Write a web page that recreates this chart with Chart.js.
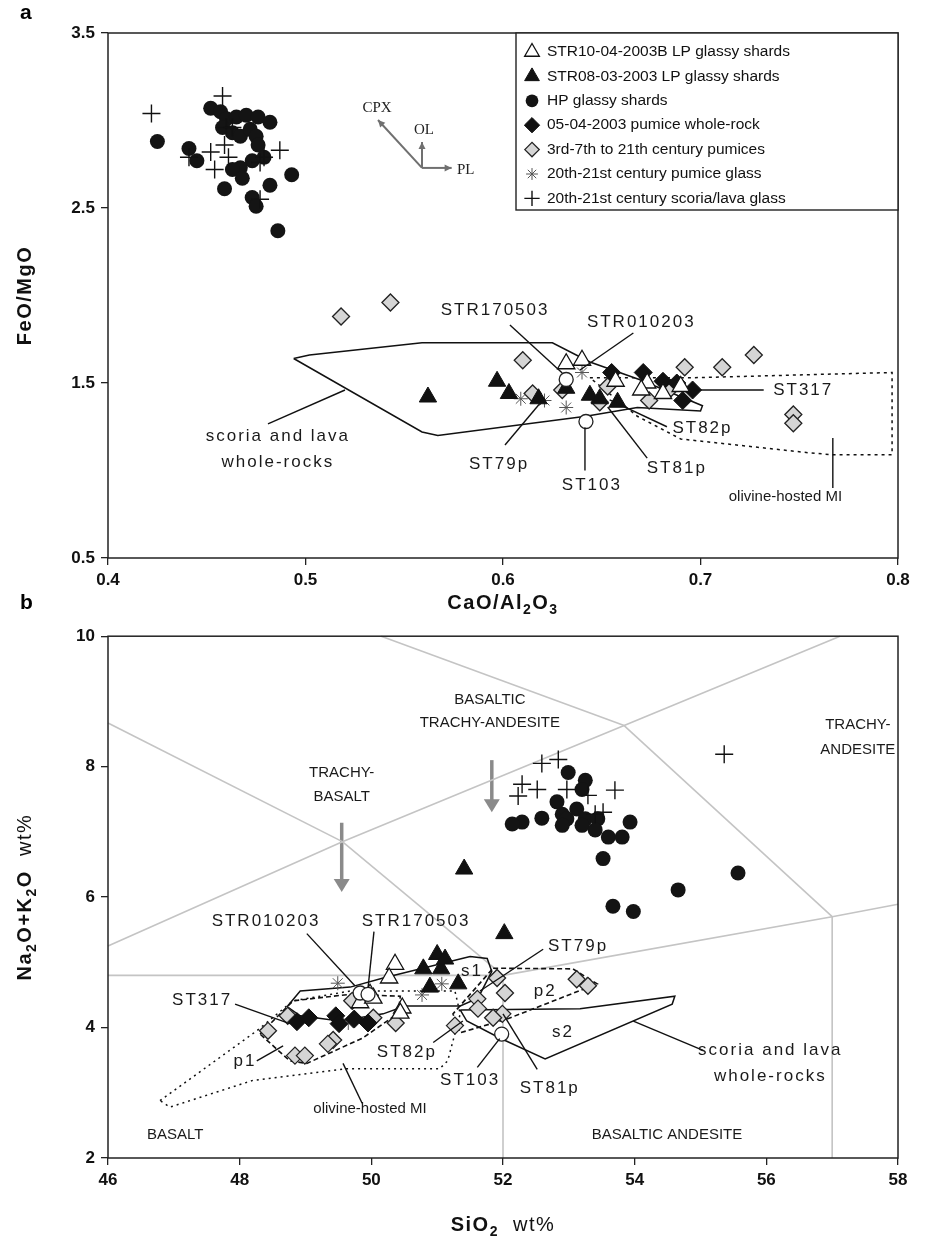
<!DOCTYPE html>
<html>
<head>
<meta charset="utf-8">
<script src="https://cdn.jsdelivr.net/npm/chart.js@4.4.1/dist/chart.umd.min.js"></script>
<style>
  body { margin: 0; background: #fff; }
  #page { position: relative; width: 928px; height: 1245px; overflow: hidden; }
  canvas { position: absolute; left: 0; }
  #ca { top: 0; }
  #cb { top: 620px; }
  .tag { position: absolute; font: bold 21px "Liberation Sans", Arial, sans-serif; }
</style>
</head>
<body>
<div id="page">
  <canvas id="ca" width="928" height="620"></canvas>
  <canvas id="cb" width="928" height="625"></canvas>
  <div class="tag" style="left:20px;top:0px">a</div>
  <div class="tag" style="left:20px;top:590px">b</div>
</div>
<script>
const SANS = '"Liberation Sans", Arial, sans-serif';
const NARROW = '"Liberation Sans Narrow", "Liberation Sans", Arial, sans-serif';

// ---------- panel a : FeO/MgO vs CaO/Al2O3 ----------
const A_X_TICKS = [0.4, 0.5, 0.6, 0.7, 0.8];
const A_Y_TICKS = [0.5, 1.5, 2.5, 3.5];

const aOpenTri = [[0.632,1.61],[0.640,1.63],[0.657,1.51],[0.673,1.50],[0.670,1.46],[0.681,1.44],[0.690,1.48]];
const aBlackTri = [[0.562,1.42],[0.597,1.51],[0.603,1.44],[0.618,1.41],[0.632,1.47],[0.644,1.43],[0.649,1.41],[0.658,1.39]];
const aHP = [[0.425,2.88],[0.441,2.84],[0.445,2.77],[0.452,3.07],[0.457,3.05],[0.460,3.01],[0.465,3.02],[0.470,3.03],
  [0.476,3.02],[0.482,2.99],[0.458,2.96],[0.463,2.93],[0.467,2.91],[0.472,2.95],[0.475,2.91],[0.476,2.86],[0.473,2.77],
  [0.467,2.73],[0.463,2.72],[0.468,2.67],[0.459,2.61],[0.482,2.63],[0.493,2.69],[0.473,2.56],[0.475,2.51],[0.486,2.37],[0.479,2.79]];
const aWR = [[0.655,1.56],[0.671,1.56],[0.681,1.51],[0.688,1.50],[0.696,1.46],[0.691,1.40]];
const aPumice = [[0.518,1.88],[0.543,1.96],[0.610,1.63],[0.615,1.44],[0.630,1.46],[0.653,1.48],[0.649,1.39],[0.674,1.40],
  [0.685,1.47],[0.692,1.59],[0.711,1.59],[0.727,1.66],[0.747,1.32],[0.747,1.27]];
const aPumGlass = [[0.609,1.41],[0.621,1.40],[0.632,1.36],[0.640,1.56]];
const aScoria = [[0.422,3.04],[0.458,3.14],[0.452,2.82],[0.441,2.79],[0.461,2.79],[0.479,2.79],[0.487,2.83],[0.454,2.72],
  [0.477,2.55],[0.460,2.96],[0.463,2.96],[0.459,2.86],[0.477,2.76]];
const aNamed = [[0.632,1.52],[0.642,1.28]];

const aScoriaField = [[0.494,1.64],[0.502,1.66],[0.559,1.73],[0.625,1.73],[0.644,1.62],[0.669,1.52],[0.701,1.37],
  [0.700,1.34],[0.668,1.36],[0.642,1.31],[0.567,1.20],[0.559,1.22]];
const aMIField = [[0.644,1.53],[0.696,1.53],[0.797,1.56],[0.797,1.09],[0.767,1.09],[0.756,1.10],[0.690,1.18],[0.668,1.31]];

const aLabels = [
  ['STR170503', 0.596, 1.917], ['STR010203', 0.670, 1.849], ['ST317', 0.752, 1.46], ['ST82p', 0.701, 1.243],
  ['ST81p', 0.688, 1.014], ['ST79p', 0.598, 1.037], ['ST103', 0.645, 0.917],
  ['scoria and lava', 0.486, 1.193], ['whole-rocks', 0.486, 1.049]
];
const aSmallLabels = [['olivine-hosted MI', 0.743, 0.849]];
const aLeaders = [[0.6035,1.831,0.630,1.557],[0.666,1.786,0.639,1.574],[0.697,1.46,0.732,1.46],[0.654,1.403,0.683,1.25],
  [0.653,1.363,0.673,1.071],[0.601,1.146,0.621,1.414],[0.6415,1.246,0.6415,1.0],[0.481,1.266,0.52,1.46],[0.767,1.186,0.767,0.90]];
// mineral vectors: origin, then [name, tip x, tip y, label x, label y]
const aVecOrigin = [0.559, 2.729];
const aVecTips = [['CPX', 0.5367, 3.003, 0.5362, 3.071], ['OL', 0.559, 2.877, 0.560, 2.946], ['PL', 0.574, 2.729, 0.5767, 2.717]];

// ---------- panel b : TAS ----------
const B_X_TICKS = [46, 48, 50, 52, 54, 56, 58];
const B_Y_TICKS = [2, 4, 6, 8, 10];

const bOpenTri = [[50.36,4.97],[50.27,4.76],[49.98,4.51],[49.83,4.38],[50.03,4.45],[50.47,4.30],[50.44,4.22]];
const bBlackTri = [[51.00,5.12],[50.79,4.90],[51.06,4.90],[50.89,4.62],[51.32,4.67],[51.41,6.43],[52.02,5.44],[51.12,5.05]];
const bHP = [[52.99,7.91],[53.25,7.79],[53.20,7.65],[52.82,7.46],[52.90,7.27],[52.97,7.20],[53.12,7.35],[53.25,7.20],
  [53.44,7.20],[53.20,7.10],[52.90,7.10],[53.40,7.03],[53.60,6.92],[53.81,6.92],[53.93,7.15],[52.59,7.21],[52.29,7.15],
  [52.14,7.12],[53.52,6.59],[55.57,6.37],[54.66,6.11],[53.67,5.86],[53.98,5.78]];
const bWR = [[48.87,4.09],[49.05,4.15],[49.46,4.18],[49.51,4.06],[49.74,4.13],[49.95,4.07]];
const bPumice = [[48.43,3.95],[48.73,4.18],[49.71,4.41],[50.03,4.15],[50.37,4.07],[49.42,3.81],[49.34,3.75],[48.84,3.57],
  [48.99,3.57],[51.27,4.03],[51.91,4.76],[52.03,4.53],[51.61,4.44],[51.62,4.29],[51.99,4.21],[51.85,4.15],[53.12,4.74],[53.29,4.64]];
const bPumGlass = [[49.49,4.68],[49.65,4.07],[50.77,4.50],[51.07,4.67]];
const bScoria = [[52.59,8.05],[52.84,8.11],[52.29,7.73],[52.52,7.65],[52.23,7.55],[52.97,7.65],[53.29,7.56],[53.70,7.64],
  [53.52,7.30],[53.40,7.27],[55.36,8.19]];
const bNamed = [[49.83,4.53],[49.95,4.51],[51.98,3.90]];

const bS1Field = [[48.72,4.32],[48.92,4.56],[49.68,4.62],[50.18,4.76],[51.50,5.09],[51.76,5.06],[51.83,4.86],[51.62,4.45],
  [51.35,4.33],[50.51,4.33],[50.18,4.21],[49.52,4.10],[48.92,4.18]];
const bS2Field = [[51.35,4.27],[53.17,4.29],[54.61,4.48],[54.57,4.36],[52.64,3.52],[51.95,3.84],[51.45,4.10]];
const bP1Field = [[48.31,3.90],[48.81,4.41],[49.68,4.51],[50.44,4.48],[50.41,4.22],[49.87,3.84],[49.02,3.45],[48.76,3.49]];
const bP2Field = [[51.85,4.91],[53.06,4.90],[53.43,4.67],[52.06,4.13],[51.35,3.92],[51.24,4.21]];
const bMIField = [[46.79,2.88],[48.26,3.95],[48.81,4.41],[49.68,4.56],[51.27,4.56],[51.35,4.21],[51.16,3.49],[51.04,3.37],
  [49.63,3.37],[48.20,3.19],[46.94,2.78]];

// classification field boundaries, as drawn in the figure
const bTasLines = [
  [[46,4.80],[52.0,4.80],[52.0,2]],
  [[52.0,4.80],[57.0,5.70],[58,5.89]],
  [[57.0,5.70],[57,2]],
  [[46,5.25],[49.56,6.85],[53.84,8.63],[57.12,10]],
  [[49.56,6.85],[52.0,4.80]],
  [[53.84,8.63],[57.0,5.70]],
  [[46,8.67],[49.56,6.85]],
  [[53.84,8.63],[50.15,10]]
];

const bLabels = [
  ['STR010203', 48.40, 5.63], ['STR170503', 50.68, 5.63], ['ST317', 47.43, 4.41], ['p1', 48.08, 3.49],
  ['ST82p', 50.54, 3.62], ['ST103', 51.50, 3.19], ['ST81p', 52.71, 3.07], ['ST79p', 53.14, 5.25],
  ['s1', 51.53, 4.86], ['p2', 52.64, 4.56], ['s2', 52.91, 3.92],
  ['scoria and lava', 56.06, 3.65], ['whole-rocks', 56.06, 3.26]
];
const bSmallLabels = [
  ['olivine-hosted MI', 49.98, 2.76], ['BASALT', 47.02, 2.35], ['BASALTIC ANDESITE', 54.49, 2.35],
  ['TRACHY-', 49.55, 7.91], ['BASALT', 49.55, 7.53], ['BASALTIC', 51.80, 9.02], ['TRACHY-ANDESITE', 51.80, 8.67],
  ['TRACHY-', 57.39, 8.64], ['ANDESITE', 57.39, 8.25]
];
const bLeaders = [[49.02,5.44,49.75,4.64],[50.04,5.47,49.95,4.61],[47.93,4.36,48.76,4.06],[48.26,3.49,48.66,3.72],
  [50.94,3.77,51.39,4.10],[51.61,3.39,51.95,3.83],[52.52,3.36,52.00,4.21],[52.61,5.20,51.65,4.56],
  [55.04,3.65,53.98,4.10],[49.86,2.84,49.57,3.45]];
const bArrows = [[49.55,7.14,49.55,6.08],[51.83,8.10,51.83,7.30]];

// ---------- helpers ----------
const xy = arr => arr.map(([x, y]) => ({ x, y }));
const closed = arr => xy([...arr, arr[0]]);

const STYLE = {
  openTri:  { pointStyle: 'triangle', pointRadius: 10, backgroundColor: '#fff', borderColor: '#111', pointBorderWidth: 1.3 },
  blackTri: { pointStyle: 'triangle', pointRadius: 10, backgroundColor: '#111', borderColor: '#111', pointBorderWidth: 1 },
  hp:       { pointStyle: 'circle', pointRadius: 7.5, backgroundColor: '#141414', borderColor: '#141414', pointBorderWidth: 0 },
  wr:       { pointStyle: 'rectRot', pointRadius: 9, backgroundColor: '#111', borderColor: '#111', pointBorderWidth: 1 },
  pumice:   { pointStyle: 'rectRot', pointRadius: 8.5, backgroundColor: '#d5d5d5', borderColor: '#222', pointBorderWidth: 1.3 },
  pumGlass: { pointStyle: 'star', pointRadius: 7, backgroundColor: '#555', borderColor: '#555', pointBorderWidth: 1 },
  scoria:   { pointStyle: 'cross', pointRadius: 9, backgroundColor: '#111', borderColor: '#111', pointBorderWidth: 1.4 },
  named:    { pointStyle: 'circle', pointRadius: 7, backgroundColor: '#fff', borderColor: '#222', pointBorderWidth: 1.3 }
};
const LEGEND = [
  ['openTri', 'STR10-04-2003B LP glassy shards'],
  ['blackTri', 'STR08-03-2003 LP glassy shards'],
  ['hp', 'HP glassy shards'],
  ['wr', '05-04-2003 pumice whole-rock'],
  ['pumice', '3rd-7th to 21th century pumices'],
  ['pumGlass', '20th-21st century pumice glass'],
  ['scoria', '20th-21st century scoria/lava glass']
];

function pts(key, data) {
  const s = STYLE[key];
  return {
    type: 'scatter', data: xy(data), pointStyle: s.pointStyle, pointRadius: s.pointRadius,
    pointBackgroundColor: s.backgroundColor, pointBorderColor: s.borderColor, pointBorderWidth: s.pointBorderWidth,
    showLine: false, clip: false
  };
}
function outline(data, dash, color, width) {
  return {
    type: 'line', data: data, borderColor: color || '#111', borderWidth: width || 1.4, borderDash: dash || [],
    pointRadius: 0, fill: false, tension: 0, showLine: true, clip: false
  };
}

function axis(min, max, ticks, fit, horizontal, fmt) {
  return {
    type: 'linear', min, max,
    border: { display: false },
    grid: { drawOnChartArea: false, drawTicks: true, tickLength: 7, color: '#222', lineWidth: 1.3 },
    ticks: { color: '#111', font: { family: SANS, size: 17, weight: 'bold' }, padding: horizontal ? 5 : 6, callback: fmt },
    afterBuildTicks: s => { s.ticks = ticks.map(value => ({ value })); },
    afterFit: s => { if (horizontal) s.height = fit; else s.width = fit; }
  };
}

// rich text: segments [text, 'b' bold | 's' bold subscript | 'n' normal]
function drawRich(ctx, segs, cx, cy, size, rotate) {
  const fontOf = st => (st === 'n' ? '' : 'bold ') + (st === 's' ? Math.round(size * 0.7) : size) + 'px ' + SANS;
  ctx.save();
  ctx.translate(cx, cy);
  if (rotate) ctx.rotate(-Math.PI / 2);
  ctx.letterSpacing = '1.5px';
  let total = 0;
  segs.forEach(([t, st]) => { ctx.font = fontOf(st); total += ctx.measureText(t).width; });
  let x = -total / 2;
  ctx.fillStyle = '#111';
  ctx.textBaseline = 'middle';
  ctx.textAlign = 'left';
  segs.forEach(([t, st]) => {
    ctx.font = fontOf(st);
    ctx.fillText(t, x, st === 's' ? size * 0.35 : 0);
    x += ctx.measureText(t).width;
  });
  ctx.restore();
}

function arrowHead(ctx, x0, y0, x1, y1, len, wid) {
  const a = Math.atan2(y1 - y0, x1 - x0);
  ctx.beginPath();
  ctx.moveTo(x1, y1);
  ctx.lineTo(x1 - len * Math.cos(a) + wid * Math.sin(a), y1 - len * Math.sin(a) - wid * Math.cos(a));
  ctx.lineTo(x1 - len * Math.cos(a) - wid * Math.sin(a), y1 - len * Math.sin(a) + wid * Math.cos(a));
  ctx.closePath();
  ctx.fill();
}

function decoPlugin(cfg) {
  return {
    id: 'deco',
    beforeDatasetsDraw(chart) {
      const { ctx, scales: { x, y } } = chart;
      ctx.save();
      (cfg.arrows || []).forEach(([x0, y0, x1, y1]) => {
        const X0 = x.getPixelForValue(x0), Y0 = y.getPixelForValue(y0);
        const X1 = x.getPixelForValue(x1), Y1 = y.getPixelForValue(y1);
        ctx.strokeStyle = '#8a8a8a'; ctx.fillStyle = '#8a8a8a'; ctx.lineWidth = 3.5;
        ctx.beginPath(); ctx.moveTo(X0, Y0); ctx.lineTo(X1, Y1 - 10); ctx.stroke();
        arrowHead(ctx, X0, Y0, X1, Y1, 13, 8);
      });
      ctx.restore();
    },
    afterDatasetsDraw(chart) {
      const { ctx, chartArea: ca, scales: { x, y } } = chart;
      const px = v => x.getPixelForValue(v), py = v => y.getPixelForValue(v);
      ctx.save();
      ctx.strokeStyle = '#222'; ctx.lineWidth = 1.5;
      ctx.strokeRect(ca.left, ca.top, ca.right - ca.left, ca.bottom - ca.top);

      ctx.strokeStyle = '#111'; ctx.lineWidth = 1.4;
      cfg.leaders.forEach(([x0, y0, x1, y1]) => {
        ctx.beginPath(); ctx.moveTo(px(x0), py(y0)); ctx.lineTo(px(x1), py(y1)); ctx.stroke();
      });

      ctx.fillStyle = '#1a1a1a';
      ctx.textAlign = 'center'; ctx.textBaseline = 'middle';
      ctx.font = '17px ' + SANS; ctx.letterSpacing = '2px';
      cfg.labels.forEach(([t, lx, ly]) => ctx.fillText(t, px(lx), py(ly)));
      ctx.font = '15px ' + NARROW; ctx.letterSpacing = '0px';
      cfg.smallLabels.forEach(([t, lx, ly]) => ctx.fillText(t, px(lx), py(ly)));

      if (cfg.vectors) {
        const [ox, oy] = cfg.vectors.origin;
        ctx.strokeStyle = '#707070'; ctx.fillStyle = '#707070'; ctx.lineWidth = 2;
        cfg.vectors.tips.forEach(([name, tx, ty, lx, ly]) => {
          ctx.beginPath(); ctx.moveTo(px(ox), py(oy)); ctx.lineTo(px(tx), py(ty)); ctx.stroke();
          arrowHead(ctx, px(ox), py(oy), px(tx), py(ty), 7, 3.5);
          ctx.fillStyle = '#222';
          ctx.font = '15px "Liberation Serif", "DejaVu Serif", serif';
          ctx.textAlign = name === 'PL' ? 'left' : 'center';
          ctx.fillText(name, px(lx), py(ly));
          ctx.fillStyle = '#707070';
        });
      }

      if (cfg.legend) {
        const L = ca.right - 382, T = ca.top, W = 382, H = 177;
        ctx.fillStyle = '#fff'; ctx.fillRect(L, T, W, H);
        ctx.strokeStyle = '#222'; ctx.lineWidth = 1.4; ctx.strokeRect(L, T, W, H);
        LEGEND.forEach(([key, text], i) => {
          const s = STYLE[key];
          const cy = T + 19 + i * 24.4;
          ctx.fillStyle = s.backgroundColor; ctx.strokeStyle = s.borderColor;
          ctx.lineWidth = s.pointBorderWidth || 0.01;
          Chart.helpers.drawPoint(ctx, { pointStyle: s.pointStyle, radius: s.pointRadius * 0.85, borderWidth: s.pointBorderWidth, rotation: 0 }, L + 16, cy);
          ctx.fillStyle = '#111'; ctx.textAlign = 'left'; ctx.textBaseline = 'middle';
          ctx.font = '15.5px ' + NARROW; ctx.letterSpacing = '0px';
          ctx.fillText(text, L + 31, cy);
        });
      }

      cfg.titles.forEach(t => drawRich(ctx, t.segs, t.x(ca), t.y(ca), 20, t.rotate));
      ctx.restore();
    }
  };
}

function build(id, datasets, xs, ys, deco, pad) {
  return new Chart(document.getElementById(id), {
    type: 'scatter',
    data: { datasets },
    options: {
      responsive: false, animation: false, devicePixelRatio: 1,
      layout: { padding: pad },
      plugins: { legend: { display: false }, tooltip: { enabled: false } },
      scales: { x: xs, y: ys }
    },
    plugins: [deco]
  });
}

// ---------- panel a ----------
build('ca', [
  pts('named', aNamed),
  pts('openTri', aOpenTri),
  pts('blackTri', aBlackTri),
  pts('wr', aWR),
  pts('pumGlass', aPumGlass),
  pts('pumice', aPumice),
  pts('scoria', aScoria),
  pts('hp', aHP),
  outline(closed(aScoriaField), [], '#111', 1.5),
  outline(closed(aMIField), [3, 4], '#111', 1.5)
],
  axis(0.4, 0.8, A_X_TICKS, 62, true, v => v.toFixed(1)),
  axis(0.5, 3.5, A_Y_TICKS, 108, false, v => v.toFixed(1)),
  decoPlugin({
    labels: aLabels, smallLabels: aSmallLabels, leaders: aLeaders, legend: true,
    vectors: { origin: aVecOrigin, tips: aVecTips },
    titles: [
      { segs: [['CaO/Al', 'b'], ['2', 's'], ['O', 'b'], ['3', 's']], x: ca => (ca.left + ca.right) / 2, y: () => 603 },
      { segs: [['FeO/MgO', 'b']], x: () => 25, y: ca => (ca.top + ca.bottom) / 2, rotate: true }
    ]
  }),
  { top: 33, right: 30, left: 0, bottom: 0 });

// ---------- panel b ----------
build('cb', [
  pts('named', bNamed),
  pts('openTri', bOpenTri),
  pts('blackTri', bBlackTri),
  pts('wr', bWR),
  pts('pumGlass', bPumGlass),
  pts('pumice', bPumice),
  pts('scoria', bScoria),
  pts('hp', bHP),
  outline(closed(bS1Field), [], '#111', 1.5),
  outline(closed(bS2Field), [], '#111', 1.5),
  outline(closed(bP1Field), [5, 3], '#111', 1.6),
  outline(closed(bP2Field), [5, 3], '#111', 1.6),
  outline(closed(bMIField), [2, 4], '#111', 1.5),
  ...bTasLines.map(l => outline(xy(l), [], '#c4c4c4', 1.6))
],
  axis(46, 58, B_X_TICKS, 87, true, v => String(v)),
  axis(2, 10, B_Y_TICKS, 108, false, v => String(v)),
  decoPlugin({
    labels: bLabels, smallLabels: bSmallLabels, leaders: bLeaders, arrows: bArrows,
    titles: [
      { segs: [['SiO', 'b'], ['2', 's'], ['  wt%', 'n']], x: ca => (ca.left + ca.right) / 2, y: () => 605 },
      { segs: [['Na', 'b'], ['2', 's'], ['O+K', 'b'], ['2', 's'], ['O', 'b'], ['  wt%', 'n']], x: () => 25, y: ca => (ca.top + ca.bottom) / 2, rotate: true }
    ]
  }),
  { top: 13, right: 30, left: 0, bottom: 0 });
</script>
</body>
</html>
